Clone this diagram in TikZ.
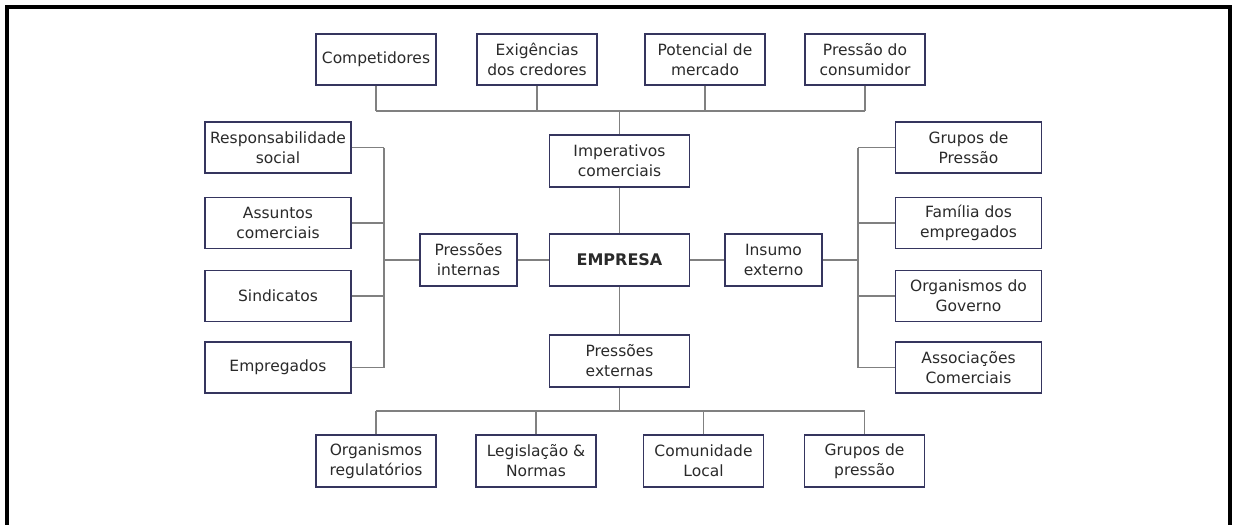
\documentclass[tikz,border=0pt]{standalone}
\usepackage{fontspec}
\setmainfont{DejaVu Sans}
\definecolor{boxc}{HTML}{35355E}
\definecolor{linec}{HTML}{808080}
\definecolor{txtc}{HTML}{2A2A2A}
\begin{document}
\begin{tikzpicture}[x=1pt,y=-1pt,
  box/.style={draw=boxc, line width=1.8pt, fill=white, align=center, inner sep=0pt,
    font=\fontsize{15.5}{20}\selectfont, text=txtc},
  rowbox/.style={box, minimum width=120pt, minimum height=51pt},
  colbox/.style={box, minimum width=146pt, minimum height=51pt},
  midbox/.style={box, minimum width=140pt, minimum height=52pt},
  smallbox/.style={box, minimum width=97pt, minimum height=52pt},
  link/.style={draw=linec, line width=1.4pt}]
\useasboundingbox (0,0) rectangle (1235,525);
% frame
\draw[line width=3.5pt, black] (7,530) -- (7,7) -- (1230,7) -- (1230,530);
% top row
\node[rowbox] (comp) at (376,59.5) {Competidores};
\node[rowbox] (exig) at (537,59.5) {Exigências\\dos credores};
\node[rowbox] (pot)  at (705,59.5) {Potencial de\\mercado};
\node[rowbox] (cons) at (865,59.5) {Pressão do\\consumidor};
% centre
\node[midbox] (imp)  at (619.5,161) {Imperativos\\comerciais};
\node[midbox, font=\fontsize{16}{20}\selectfont\bfseries] (emp) at (619.5,260) {EMPRESA};
\node[midbox] (pext) at (619.5,361) {Pressões\\externas};
\node[smallbox] (pint) at (468.5,260) {Pressões\\internas};
\node[smallbox] (ins)  at (773.5,260) {Insumo\\externo};
% left column
\node[colbox] (resp) at (278,147.5) {Responsabilidade\\social};
\node[colbox] (assu) at (278,223) {Assuntos\\comerciais};
\node[colbox] (sind) at (278,296) {Sindicatos};
\node[colbox] (empr) at (278,367.5) {Empregados};
% right column
\node[colbox] (gpre) at (968.5,147.5) {Grupos de\\Pressão};
\node[colbox] (fami) at (968.5,223) {Família dos\\empregados};
\node[colbox] (orgg) at (968.5,296) {Organismos do\\Governo};
\node[colbox] (asso) at (968.5,367.5) {Associações\\Comerciais};
% bottom row
\node[rowbox, minimum height=52pt] (orgr) at (376,461) {Organismos\\regulatórios};
\node[rowbox, minimum height=52pt] (legi) at (536,461) {Legislação \&\\Normas};
\node[rowbox, minimum height=52pt] (comu) at (703.5,461) {Comunidade\\Local};
\node[rowbox, minimum height=52pt] (gprb) at (864.5,461) {Grupos de\\pressão};
% bus coordinates
\coordinate (tbus) at (0,111);
\coordinate (bbus) at (0,411);
\coordinate (lbus) at (384,0);
\coordinate (rbus) at (858,0);
% top bus
\foreach \n in {comp,exig,pot,cons}
  \draw[link] (\n.south) -- (\n.south |- tbus);
\draw[link] (comp.south |- tbus) -- (cons.south |- tbus);
\draw[link] (imp.north) -- (imp.north |- tbus);
% bottom bus
\foreach \n in {orgr,legi,comu,gprb}
  \draw[link] (\n.north) -- (\n.north |- bbus);
\draw[link] (orgr.north |- bbus) -- (gprb.north |- bbus);
\draw[link] (pext.south) -- (pext.south |- bbus);
% left bus
\foreach \n in {resp,assu,sind,empr}
  \draw[link] (\n.east) -- (\n.east -| lbus);
\draw[link] (resp.east -| lbus) -- (empr.east -| lbus);
\draw[link] (pint.west) -- (pint.west -| lbus);
% right bus
\foreach \n in {gpre,fami,orgg,asso}
  \draw[link] (\n.west) -- (\n.west -| rbus);
\draw[link] (gpre.west -| rbus) -- (asso.west -| rbus);
\draw[link] (ins.east) -- (ins.east -| rbus);
% centre links
\draw[link] (imp.south) -- (emp.north);
\draw[link] (emp.south) -- (pext.north);
\draw[link] (emp.west) -- (pint.east);
\draw[link] (emp.east) -- (ins.west);
\end{tikzpicture}
\end{document}
